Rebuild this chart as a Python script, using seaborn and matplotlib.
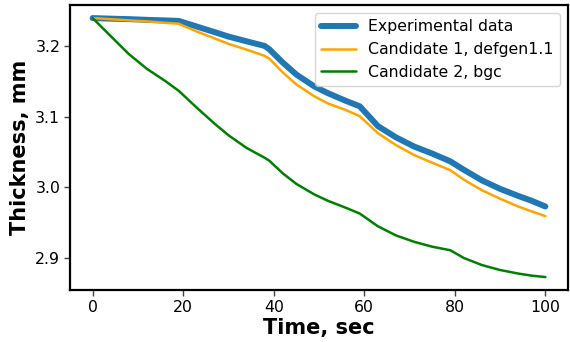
import matplotlib
matplotlib.use("Agg")
import matplotlib.pyplot as plt
import seaborn as sns
import pandas as pd

time_sec = [0, 5, 8, 12, 16, 19, 23, 27, 30, 34, 38, 39, 42, 45, 49, 52, 56, 59,
            63, 67, 71, 75, 79, 82, 86, 90, 94, 97, 100]
experimental = [3.240, 3.239, 3.2385, 3.2375, 3.2367, 3.236, 3.228, 3.220, 3.2138,
                3.2071, 3.2005, 3.196, 3.177, 3.160, 3.143, 3.1335, 3.1225, 3.115,
                3.087, 3.071, 3.058, 3.048, 3.037, 3.025, 3.010, 2.998, 2.988,
                2.981, 2.973]
candidate1 = [3.240, 3.238, 3.2368, 3.2353, 3.2333, 3.232, 3.221, 3.211, 3.2035,
              3.1953, 3.1865, 3.1826, 3.163, 3.146, 3.129, 3.119, 3.1095, 3.101,
              3.077, 3.060, 3.046, 3.035, 3.0245, 3.011, 2.996, 2.984, 2.973,
              2.966, 2.9594]
candidate2 = [3.240, 3.208, 3.189, 3.168, 3.151, 3.137, 3.113, 3.090, 3.074, 3.056,
              3.042, 3.038, 3.020, 3.005, 2.990, 2.981, 2.971, 2.963, 2.945, 2.932,
              2.923, 2.916, 2.911, 2.900, 2.890, 2.883, 2.878, 2.875, 2.873]

labels = ["Experimental data", "Candidate 1, defgen1.1", "Candidate 2, bgc"]

sns.set_style("ticks")
plt.rcParams["font.family"] = ["DejaVu Sans"]
plt.rcParams["text.color"] = "black"
plt.rcParams["axes.labelcolor"] = "black"
plt.rcParams["xtick.color"] = "black"
plt.rcParams["ytick.color"] = "black"

fig = plt.figure(figsize=(5.7, 3.42), dpi=100)
ax = fig.add_axes([0.1228, 0.152, 0.8737, 0.833])

df = pd.DataFrame({"t": time_sec, "exp": experimental, "c1": candidate1, "c2": candidate2})
sns.lineplot(data=df, x="t", y="exp", ax=ax, color="#1f77b4", linewidth=4.3, label=labels[0])
sns.lineplot(data=df, x="t", y="c1", ax=ax, color="orange", linewidth=1.8, label=labels[1])
sns.lineplot(data=df, x="t", y="c2", ax=ax, color="green", linewidth=1.8, label=labels[2])

ax.set_xticks([0, 20, 40, 60, 80, 100])
ax.set_yticks([2.9, 3.0, 3.1, 3.2])
ax.set_xlabel("Time, sec", fontsize=15, fontweight="bold", labelpad=2)
ax.set_ylabel("Thickness, mm", fontsize=15, fontweight="bold", labelpad=4)
ax.tick_params(labelsize=11.3, length=4, width=1, color="#444444", labelcolor="black", pad=3)
for sp in ax.spines.values():
    sp.set_linewidth(1.6)
    sp.set_color("black")
    sp.set_visible(True)

leg = ax.legend(loc="upper right", fontsize=11.3, handlelength=2.2)
for txt in leg.get_texts():
    txt.set_color("black")

fig.savefig("out.png", dpi=100)
